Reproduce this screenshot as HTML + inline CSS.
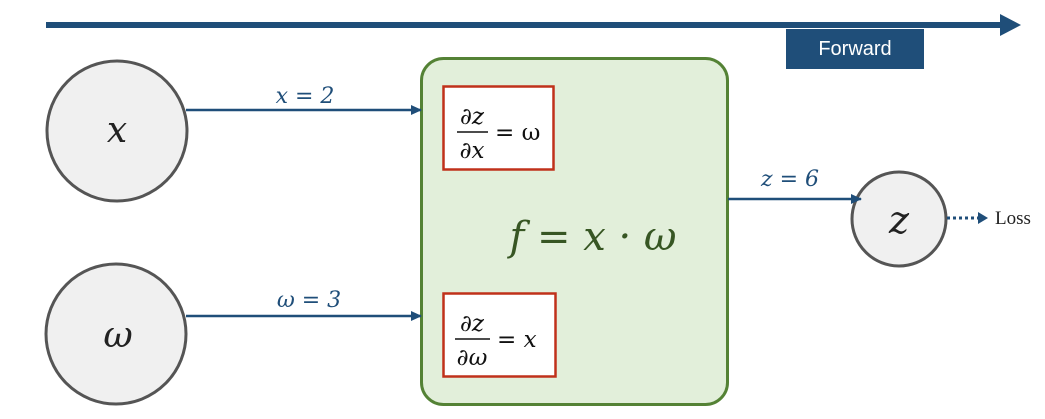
<!DOCTYPE html>
<html><head><meta charset="utf-8"><style>
html,body{margin:0;padding:0;background:#fff;}
svg{display:block;}
.m{font-family:"DejaVu Serif","Liberation Serif",serif;font-style:italic;}
</style></head><body>
<svg width="1045" height="419" viewBox="0 0 1045 419" xmlns="http://www.w3.org/2000/svg">
<defs>
<marker id="a" markerWidth="12" markerHeight="12" refX="10" refY="5" orient="auto" markerUnits="userSpaceOnUse"><path d="M0,0 L11,5 L0,10 z" fill="#1f4e79"/></marker>
</defs>
<rect x="46" y="22" width="956" height="6" fill="#1f4e79"/>
<polygon points="1000,14 1021,25 1000,36" fill="#1f4e79"/>
<rect x="786" y="29" width="138" height="40" fill="#1f4e79"/>
<text x="855" y="55" text-anchor="middle" font-family="Liberation Sans, sans-serif" font-size="20" fill="#fff">Forward</text>

<rect x="421.5" y="58.5" width="306" height="346" rx="22" fill="#e2efda" stroke="#548235" stroke-width="3"/>
<rect x="443.5" y="86.5" width="110" height="83" fill="#fff" stroke="#c0311a" stroke-width="2.5"/>
<rect x="443.5" y="293.5" width="112" height="83" fill="#fff" stroke="#c0311a" stroke-width="2.5"/>
<g font-family="DejaVu Serif, serif" font-size="23" fill="#111">
<text x="472" y="124" text-anchor="middle" font-style="italic">∂z</text>
<line x1="457" y1="132" x2="488" y2="132" stroke="#111" stroke-width="1.5"/>
<text x="472" y="158" text-anchor="middle" font-style="italic">∂x</text>
<text x="495" y="140">= ω</text>
<text x="472" y="331" text-anchor="middle" font-style="italic">∂z</text>
<line x1="455" y1="339" x2="490" y2="339" stroke="#111" stroke-width="1.5"/>
<text x="472" y="365" text-anchor="middle" font-style="italic">∂ω</text>
<text x="497" y="347">= <tspan font-style="italic">x</tspan></text>
</g>
<text x="593" y="250" text-anchor="middle" class="m" font-size="40" fill="#375623">f = x · ω</text>

<circle cx="117" cy="131" r="70" fill="#f0f0f0" stroke="#555" stroke-width="3"/>
<circle cx="116" cy="334" r="70" fill="#f0f0f0" stroke="#555" stroke-width="3"/>
<circle cx="899" cy="219" r="47" fill="#f0f0f0" stroke="#555" stroke-width="3"/>
<text x="117" y="142" text-anchor="middle" class="m" font-size="36" fill="#222">x</text>
<text x="118" y="347" text-anchor="middle" class="m" font-size="36" fill="#222">ω</text>
<text x="899" y="233" text-anchor="middle" class="m" font-size="38" fill="#222">z</text>

<line x1="186" y1="110" x2="421" y2="110" stroke="#1f4e79" stroke-width="2.5" marker-end="url(#a)"/>
<line x1="186" y1="316" x2="421" y2="316" stroke="#1f4e79" stroke-width="2.5" marker-end="url(#a)"/>
<line x1="728" y1="199" x2="861" y2="199" stroke="#1f4e79" stroke-width="2.5" marker-end="url(#a)"/>
<line x1="947" y1="218" x2="980" y2="218" stroke="#1f4e79" stroke-width="3" stroke-dasharray="3,3"/>
<polygon points="978,212 988,218 978,224" fill="#1f4e79"/>
<text x="995" y="224" font-family="Liberation Serif, serif" font-size="19" fill="#222">Loss</text>

<g class="m" font-size="22" fill="#1f4e79">
<text x="305" y="103" text-anchor="middle">x = 2</text>
<text x="309" y="307" text-anchor="middle">ω = 3</text>
<text x="790" y="186" text-anchor="middle">z = 6</text>
</g>
</svg>
</body></html>
